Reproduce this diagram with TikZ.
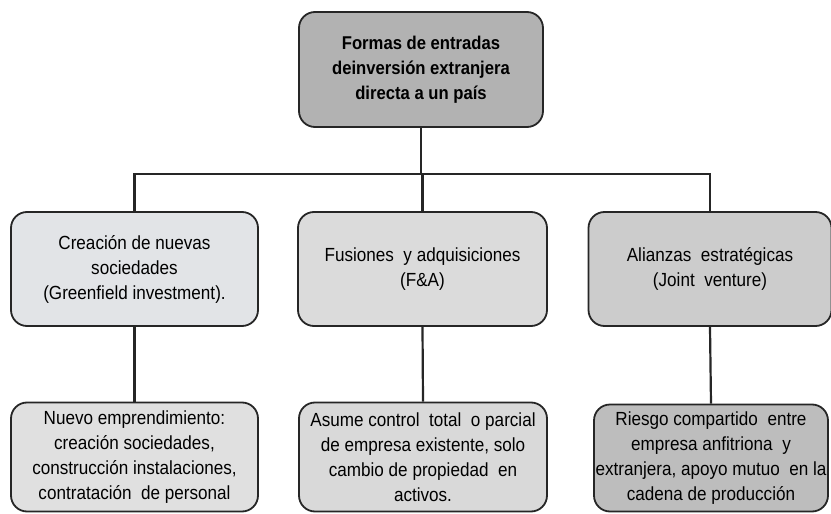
\documentclass[tikz,border=0pt]{standalone}
\usepackage{fontspec}
\setmainfont{Liberation Sans}[FakeStretch=0.9]
\begin{document}
\begin{tikzpicture}[x=1pt,y=-1pt,
  box/.style={draw=black!85, line width=1.8pt, rounded corners=16pt, align=center,
    inner sep=0pt, font=\fontsize{19}{25}\selectfont},
  conn/.style={draw=black!85, line width=2.2pt}]
\useasboundingbox (0,0) rectangle (831,514);
\node[box, fill=black!30, minimum width=244pt, minimum height=115pt,
  font=\bfseries\fontsize{18.5}{25}\selectfont] (top) at (421,69.5)
  {Formas de entradas\\deinversión extranjera\\directa a un país};
\node[box, fill={rgb,255:red,226;green,228;blue,231}, minimum width=247pt, minimum height=114pt] (ml) at (134.5,269)
  {Creación de nuevas\\sociedades\\(Greenfield investment).};
\node[box, fill=black!14, minimum width=249pt, minimum height=114pt] (mc) at (422.5,269)
  {Fusiones \ y adquisiciones\\(F\&A)};
\node[box, fill=black!20, minimum width=243pt, minimum height=114pt] (mr) at (710,269)
  {Alianzas \ estratégicas\\(Joint \ venture)};
\node[box, fill=black!12, minimum width=247pt, minimum height=109pt] (bl) at (134.5,457)
  {Nuevo emprendimiento:\\creación sociedades,\\construcción instalaciones,\\contratación \ de personal};
\node[box, fill=black!15, minimum width=248pt, minimum height=109pt] (bc) at (423,457)
  {Asume control \ total \ o parcial\\de empresa existente, solo\\cambio de propiedad \ en\\activos.};
\node[box, fill=black!26, minimum width=234pt, minimum height=107pt] (br) at (711,458)
  {Riesgo compartido \ entre\\empresa anfitriona \ y\\extranjera, apoyo mutuo \ en la\\cadena de producción};
\coordinate (hl) at (134,174);
\draw[conn] (top.south) -- (top.south |- hl);
\draw[conn] (ml.north) -- (ml.north |- hl) -- (mr.north |- hl) -- (mr.north);
\draw[conn] (mc.north) -- (mc.north |- hl);
\draw[conn] (ml.south) -- (bl.north);
\draw[conn] (mc.south) -- (bc.north);
\draw[conn] (mr.south) -- (br.north);
\end{tikzpicture}
\end{document}
